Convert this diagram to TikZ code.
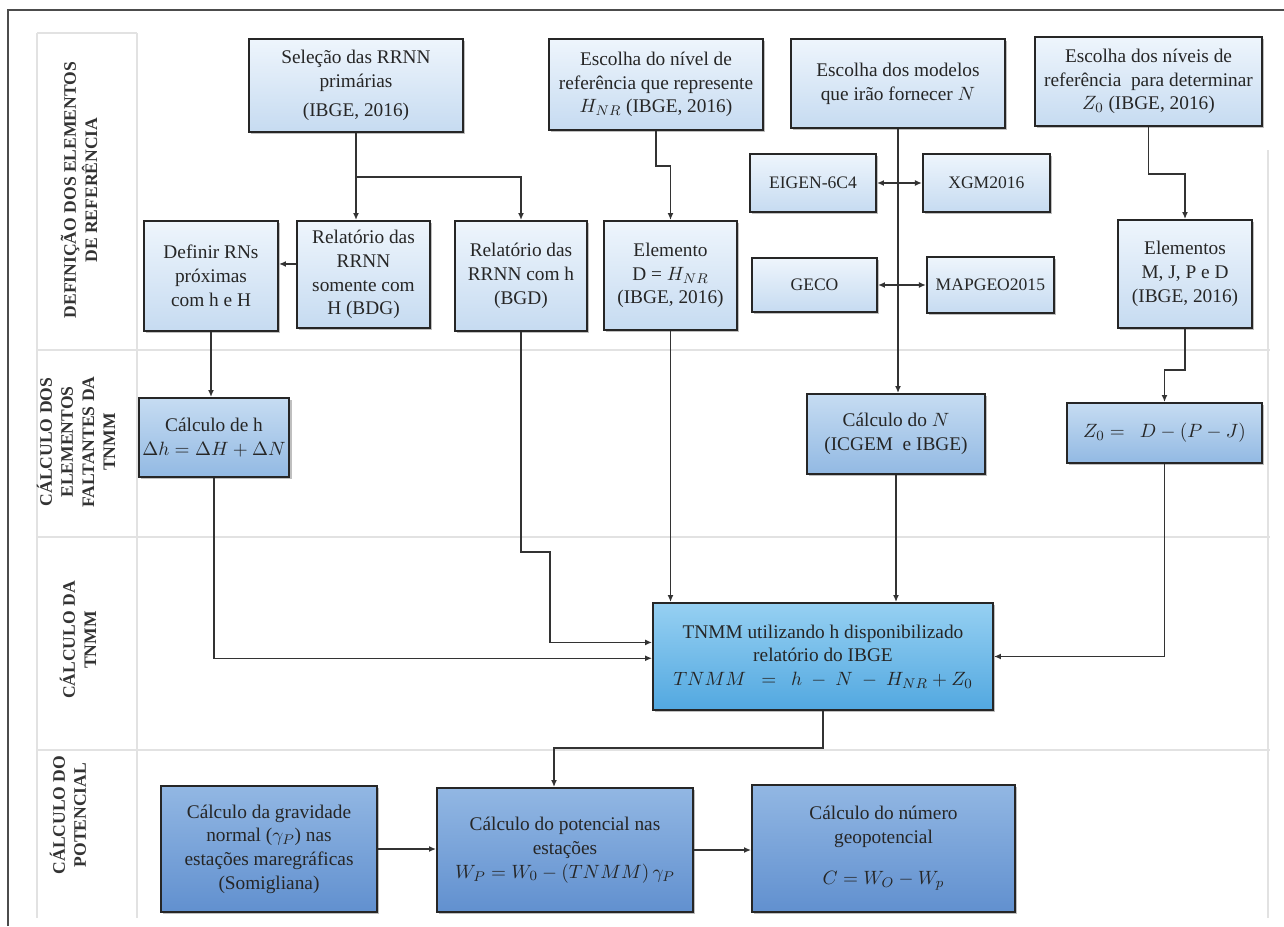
\documentclass[tikz,border=0pt]{standalone}
\usepackage{fontspec}
\setmainfont{Liberation Serif}
\usepackage{tikz}
\usepackage{xcolor}
\usetikzlibrary{arrows.meta,positioning,shadows}

\definecolor{reftop}{HTML}{EEF5FC}
\definecolor{refbot}{HTML}{C6DBF1}
\definecolor{calctop}{HTML}{C6DCF2}
\definecolor{calcbot}{HTML}{92B9E3}
\definecolor{tnmmtop}{HTML}{96D0F2}
\definecolor{tnmmbot}{HTML}{52A8E0}
\definecolor{pottop}{HTML}{92B7E3}
\definecolor{potbot}{HTML}{6190CF}
\definecolor{lanegray}{HTML}{E2E2E2}

\begin{document}
\begin{tikzpicture}[x=0.02cm, y=-0.02cm,
                >={Latex[length=4pt,width=3.4pt]},
                font=\fontsize{11}{13.5}\selectfont]
        \tikzset{
                basic/.style    = {draw=black!85, line width=1.1pt, align=center, inner sep=2pt,
                                text=black!85,
                                drop shadow={shadow xshift=1.3pt, shadow yshift=-1.3pt, opacity=.5}},
                refbox/.style   = {basic, top color=reftop, bottom color=refbot},
                modelbox/.style = {refbox, font=\fontsize{10}{12}\selectfont},
                calcbox/.style  = {basic, top color=calctop, bottom color=calcbot},
                tnmmbox/.style  = {basic, top color=tnmmtop, bottom color=tnmmbot},
                potbox/.style   = {basic, top color=pottop, bottom color=potbot},
                lane/.style     = {rotate=90, align=center, text=black!80,
                                font=\fontsize{10}{12}\selectfont\bfseries},
                link/.style     = {draw=black!80, line width=0.8pt}
        }
        \useasboundingbox (0,0) rectangle (1284,926);

        % frame and swim lanes
        \draw[black!70, line width=1pt] (8,926) -- (8,10) -- (1284,10);
        \begin{scope}[lanegray, line width=1pt]
                \draw (37,33) -- (137,33);
                \foreach \x in {37,137} \draw (\x,33) -- (\x,918);
                \foreach \y in {350,537,750} \draw (37,\y) -- (1270,\y);
                \draw (1268,150) -- (1268,918);
        \end{scope}

        % lane titles
        \node[lane] (lane1) at (79,190) {DEFINIÇÃO DOS ELEMENTOS\\DE REFERÊNCIA};
        \node[lane] (lane2) at (76,442) {CÁLCULO DOS\\ELEMENTOS\\FALTANTES DA\\TNMM};
        \node[lane] (lane3) at (78,640) {CÁLCULO DA\\TNMM};
        \node[lane] (lane4) at (68,815) {CÁLCULO DO\\POTENCIAL};

        % first lane: reference elements
        \node[refbox, minimum width=4.28cm, minimum height=1.86cm] (sel) at (356,85.5)
                {Seleção das RRNN\\primárias\\[3pt](IBGE, 2016)};
        \node[refbox, minimum width=4.28cm, minimum height=1.82cm] (escniv) at (656,84.5)
                {Escolha do nível de\\referência que represente\\$H_{NR}$ (IBGE, 2016)};
        \node[refbox, minimum width=4.28cm, minimum height=1.78cm] (escmod) at (898,83.5)
                {Escolha dos modelos\\que irão fornecer $N$};
        \node[refbox, minimum width=4.54cm, minimum height=1.78cm] (escniz) at (1148.5,81.5)
                {Escolha dos níveis de\\referência~ para determinar\\$Z_0$ (IBGE, 2016)};

        \node[modelbox, minimum width=2.52cm, minimum height=1.16cm] (eigen) at (813,183) {EIGEN-6C4};
        \node[modelbox, minimum width=2.54cm, minimum height=1.16cm, right=0.9cm of eigen] (xgm) {XGM2016};
        \node[modelbox, minimum width=2.5cm, minimum height=1.08cm] (geco) at (814.5,285) {GECO};
        \node[modelbox, minimum width=2.54cm, minimum height=1.12cm, right=0.96cm of geco] (mapgeo) {MAPGEO2015};

        \node[refbox, minimum width=2.68cm, minimum height=2.2cm] (defrn) at (211,276)
                {Definir RNs\\próximas\\com h e H};
        \node[refbox, minimum width=2.66cm, minimum height=2.14cm] (relH) at (363.5,274.5)
                {Relatório das\\RRNN\\somente com\\H (BDG)};
        \node[refbox, minimum width=2.64cm, minimum height=2.2cm] (relh) at (521,276)
                {Relatório das\\RRNN com h\\(BGD)};
        \node[refbox, minimum width=2.66cm, minimum height=2.18cm] (elem) at (670.5,275.5)
                {Elemento\\D = $H_{NR}$\\(IBGE, 2016)};
        \node[refbox, minimum width=2.68cm, minimum height=2.16cm] (elems) at (1185,274)
                {Elementos\\M, J, P e D\\(IBGE, 2016)};

        % second lane: missing elements
        \node[calcbox, minimum width=2.76cm, minimum height=1.58cm] (calch) at (214,437.5)
                {Cálculo de h\\$\Delta h = \Delta H + \Delta N$};
        \node[calcbox, minimum width=3.56cm, minimum height=1.6cm] (calcN) at (896,434)
                {Cálculo do $N$\\(ICGEM~ e IBGE)};
        \node[calcbox, minimum width=3.9cm, minimum height=1.2cm] (z0) at (1164.5,433)
                {$Z_0 =\ \ D - (P - J)$};

        % third lane: TNMM
        \node[tnmmbox, minimum width=6.8cm, minimum height=2.14cm] (tnmm) at (823,656.5)
                {TNMM utilizando h disponibilizado\\relatório do IBGE\\$TNMM\ \ =\ \ h\ -\ N\ -\ H_{NR} + Z_0$};

        % fourth lane: potential
        \node[potbox, minimum width=4.32cm, minimum height=2.52cm] (grav) at (269,849)
                {Cálculo da gravidade\\normal ($\gamma_P$) nas\\estações maregráficas\\(Somigliana)};
        \node[potbox, minimum width=5.12cm, minimum height=2.48cm] (pot) at (565,850)
                {Cálculo do potencial nas\\estações\\$W_P = W_0 - (TNMM)\,\gamma_P$};
        \node[potbox, minimum width=5.26cm, minimum height=2.54cm] (geo) at (883.5,848.5)
                {Cálculo do número\\geopotencial\\[10pt]$C = W_O - W_p$};

        % branch points of the elbow lines
        \coordinate (b1) at (356,177);
        \coordinate (b2) at (663,166);
        \coordinate (b3) at (1167,174);
        \coordinate (b4) at (1175,370);
        \coordinate (b5) at (550,552);
        \coordinate (b6) at (554,748);

        % straight drops
        \foreach \a/\b in {escmod/calcN, defrn/calch, elem/tnmm, calcN/tnmm}
                \draw[link,->] (\a.south) -- (\a.south |- \b.north);
        % model pairs
        \foreach \l/\r in {eigen/xgm, geco/mapgeo}
                \draw[link,<->] (\l.east) -- (\l.east -| \r.west);

        \draw[link] (sel.south) -- (b1);
        \draw[link,->] (b1) -- (b1 |- relH.north);
        \draw[link,->] (b1) -| (relh.north);
        \draw[link,->] (escniv.south) |- (b2) -| (elem.north);
        \draw[link,->] (escniz.south) |- (b3) -| (elems.north);
        \draw[link,->] (elems.south) |- (b4) -| (z0.north);
        \draw[link,->] ([yshift=6pt]relH.west) -- ([yshift=6pt]relH.west -| defrn.east);

        % into TNMM
        \draw[link,->] (calch.south) |- ([yshift=-1pt]tnmm.west);
        \draw[link,->] (relh.south) |- (b5) |- ([yshift=8pt]tnmm.west);
        \draw[link,->] (z0.south) |- (tnmm.east);

        % TNMM to the potential
        \draw[link,->] (tnmm.south) |- (b6) -- (b6 |- pot.north);
        \draw[link,->] (grav.east) -- (grav.east -| pot.west);
        \draw[link,->] (pot.east) -- (pot.east -| geo.west);
\end{tikzpicture}
\end{document}
